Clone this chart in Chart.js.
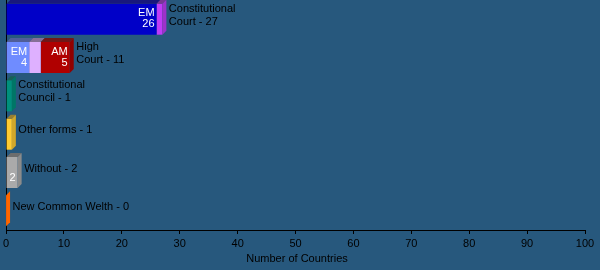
<!DOCTYPE html>
<html>
<head>
<meta charset="utf-8">
<script src="https://cdn.jsdelivr.net/npm/chart.js@4/dist/chart.umd.min.js"></script>
<style>
html, body { margin: 0; padding: 0; background: #27587d; }
canvas { display: block; }
</style>
</head>
<body>
<canvas id="myChart" width="600" height="270"></canvas>
<script>
// Data
const categories = ['Constitutional Court', 'High Court', 'Constitutional Council', 'Other forms', 'Without', 'New Common Welth'];
const sideLabels = [['Constitutional', 'Court - 27'], ['High', 'Court - 11'], ['Constitutional', 'Council - 1'], ['Other forms - 1'], ['Without - 2'], ['New Common Welth - 0']];
const emValues = [26, 4, 1, 1, 2, 0];
const midValues = [1, 2, 0, 0, 0, 0];
const amValues = [0, 5, 0, 0, 0, 0];
const emTags = [['EM', '26'], ['EM', '4'], null, null, ['', '2'], null];
const midTags = [null, null, null, null, null, null];
const amTags = [null, ['AM', '5'], null, null, null, null];
const axisTitle = 'Number of Countries';

const emColors = ['#0000c8', '#6f8cff', '#00907c', '#ffcc33', '#aaaaaa', '#ff6600'];
const midColors = ['#c03cf8', '#deb0ff', '#000000', '#000000', '#000000', '#000000'];
const amColors = ['#b00000', '#b00000', '#b00000', '#b00000', '#b00000', '#b00000'];

const DEPTH = 4;

// mix a colour toward a dark grey
function shade(hex, f, grey) {
    const n = parseInt(hex.slice(1), 16);
    const r = Math.round(((n >> 16) & 255) * f + grey);
    const g = Math.round(((n >> 8) & 255) * f + grey);
    const b = Math.round((n & 255) * f + grey);
    return 'rgb(' + r + ',' + g + ',' + b + ')';
}

// draws the 3d faces, the labels inside bars and the labels beside them
const boxPlugin = {
    id: 'boxPlugin',
    afterDatasetsDraw(chart) {
        const ctx = chart.ctx;
        const xScale = chart.scales.x;
        const yScale = chart.scales.y;
        const metas = chart.data.datasets.map((d, k) => chart.getDatasetMeta(k));
        ctx.save();
        categories.forEach((cat, i) => {
            // last segment with a value (or first one if all are zero)
            let last = 0;
            chart.data.datasets.forEach((ds, k) => { if (ds.data[i] > 0) last = k; });
            chart.data.datasets.forEach((ds, k) => {
                const el = metas[k].data[i];
                const col = ds.backgroundColor[i];
                const top = el.y - el.height / 2;
                const bottom = el.y + el.height / 2;
                if (ds.data[i] > 0) {
                    ctx.fillStyle = shade(col, 0.5, 24);
                    ctx.beginPath();
                    ctx.moveTo(el.base, top);
                    ctx.lineTo(el.base + DEPTH, top - DEPTH);
                    ctx.lineTo(el.x + DEPTH, top - DEPTH);
                    ctx.lineTo(el.x, top);
                    ctx.closePath();
                    ctx.fill();
                }
                if (k === last) {
                    ctx.fillStyle = ds.data[i] > 0 ? shade(col, 0.82, 0) : col;
                    ctx.beginPath();
                    ctx.moveTo(el.x, top);
                    ctx.lineTo(el.x + DEPTH, top - DEPTH);
                    ctx.lineTo(el.x + DEPTH, bottom - DEPTH);
                    ctx.lineTo(el.x, bottom);
                    ctx.closePath();
                    ctx.fill();
                }
                const tags = ds.tags[i];
                if (tags) {
                    ctx.fillStyle = '#ffffff';
                    ctx.font = '11px "Liberation Sans", Arial, sans-serif';
                    ctx.textAlign = 'right';
                    ctx.textBaseline = 'middle';
                    ctx.fillText(tags[0], el.x - 2, el.y - 6);
                    ctx.fillText(tags[1], el.x - 2, el.y + 5);
                }
            });
            // label beside the bar
            const total = emValues[i] + midValues[i] + amValues[i];
            const lx = xScale.getPixelForValue(total) + DEPTH + 2.5;
            const cy = yScale.getPixelForValue(i) - 4;
            const lines = sideLabels[i];
            ctx.fillStyle = '#000000';
            ctx.font = '11px "Liberation Sans", Arial, sans-serif';
            ctx.textAlign = 'left';
            ctx.textBaseline = 'middle';
            lines.forEach((t, j) => {
                ctx.fillText(t, lx, cy + (j - (lines.length - 1) / 2) * 13);
            });
        });
        ctx.restore();
    },
    afterDraw(chart) {
        const ctx = chart.ctx;
        ctx.save();
        ctx.fillStyle = '#000000';
        ctx.font = '11px "Liberation Sans", Arial, sans-serif';
        ctx.textAlign = 'center';
        ctx.textBaseline = 'middle';
        ctx.fillText(axisTitle, 297, 259);
        ctx.restore();
    }
};

Chart.defaults.font.family = '"Liberation Sans", Arial, sans-serif';
Chart.defaults.font.size = 11;
Chart.defaults.color = '#000000';

const ctx = document.getElementById('myChart').getContext('2d');
const chart = new Chart(ctx, {
    type: 'bar',
    data: {
        labels: categories,
        datasets: [
            { data: emValues, backgroundColor: emColors, tags: emTags },
            { data: midValues, backgroundColor: midColors, tags: midTags },
            { data: amValues, backgroundColor: amColors, tags: amTags }
        ]
    },
    options: {
        indexAxis: 'y',
        responsive: false,
        animation: false,
        barPercentage: 0.81,
        categoryPercentage: 1.0,
        borderWidth: 0,
        layout: { padding: { left: 5, right: 15, top: 0, bottom: 0 } },
        plugins: {
            legend: { display: false },
            tooltip: { enabled: false }
        },
        scales: {
            x: {
                stacked: true,
                min: 0,
                max: 100,
                z: 1,
                ticks: { stepSize: 10, color: '#000000', padding: 3, maxRotation: 0 },
                grid: { drawOnChartArea: false, drawTicks: true, tickLength: 4, color: '#000000' },
                border: { color: '#000000', width: 1 },
                afterFit(scale) { scale.height = 40; }
            },
            y: {
                stacked: true,
                z: 1,
                ticks: { display: false },
                grid: { display: false },
                border: { color: '#000000', width: 1 },
                afterFit(scale) { scale.width = 0; }
            }
        }
    },
    plugins: [boxPlugin]
});
</script>
</body>
</html>
